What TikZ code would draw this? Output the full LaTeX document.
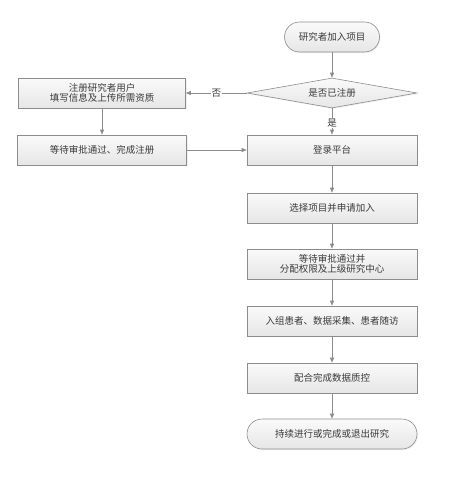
\documentclass[tikz,border=0pt]{standalone}
\usepackage{fontspec}
\setmainfont{Noto Sans CJK SC}
\usetikzlibrary{shapes.geometric,arrows.meta,shadows}
\definecolor{edge}{HTML}{8C8C8C}
\definecolor{txt}{HTML}{3A3A3A}
\definecolor{fillA}{HTML}{FAFAFA}
\definecolor{fillB}{HTML}{E6E6E6}
\tikzset{
  base/.style={draw=edge, line width=0.6pt, top color=fillA, bottom color=fillB,
    text=txt, font=\fontsize{9.5}{12}\selectfont, align=center,
    drop shadow={shadow xshift=1pt, shadow yshift=-1pt, fill=black!12}},
  procbox/.style={base, rectangle, minimum width=170pt, minimum height=30pt, inner sep=0pt},
  termbox/.style={base, rectangle, rounded corners=15pt, minimum height=30pt, inner sep=0pt},
  decbox/.style={base, diamond, aspect=5.67, minimum width=170pt, minimum height=30pt, inner sep=0pt},
  conn/.style={draw=edge, line width=0.6pt, -{Triangle[length=5pt,width=4pt]}},
  lbl/.style={fill=white, text=txt, font=\fontsize{9.5}{12}\selectfont, inner sep=1pt}
}
\begin{document}
\begin{tikzpicture}[x=1pt,y=-1pt]
\useasboundingbox (0,0) rectangle (449,479);
\node[termbox, minimum width=95pt] (start) at (332,37) {研究者加入项目};
\node[decbox] (dec) at (332,93) {是否已注册};
\node[procbox, minimum width=167pt] (reg) at (102,93) {注册研究者用户\\[-2pt]填写信息及上传所需资质};
\node[procbox, minimum width=169pt] (wait1) at (102,150) {等待审批通过、完成注册};
\node[procbox] (login) at (332,150) {登录平台};
\node[procbox] (sel) at (332,208) {选择项目并申请加入};
\node[procbox] (wait2) at (332,264) {等待审批通过并\\[-2pt]分配权限及上级研究中心};
\node[procbox] (enrol) at (332,321) {入组患者、数据采集、患者随访};
\node[procbox] (qc) at (332,378) {配合完成数据质控};
\node[termbox, minimum width=170pt] (end) at (332,434) {持续进行或完成或退出研究};

\draw[conn] (start) -- (dec);
\draw[conn] (dec) -- node[lbl, pos=0.55] {是} (login);
\draw[conn] (dec.west) -- node[lbl, pos=0.5] {否} (reg.east);
\draw[conn] (reg) -- (wait1);
\draw[conn] (wait1) -- (login);
\draw[conn] (login) -- (sel);
\draw[conn] (sel) -- (wait2);
\draw[conn] (wait2) -- (enrol);
\draw[conn] (enrol) -- (qc);
\draw[conn] (qc) -- (end);
\end{tikzpicture}
\end{document}
